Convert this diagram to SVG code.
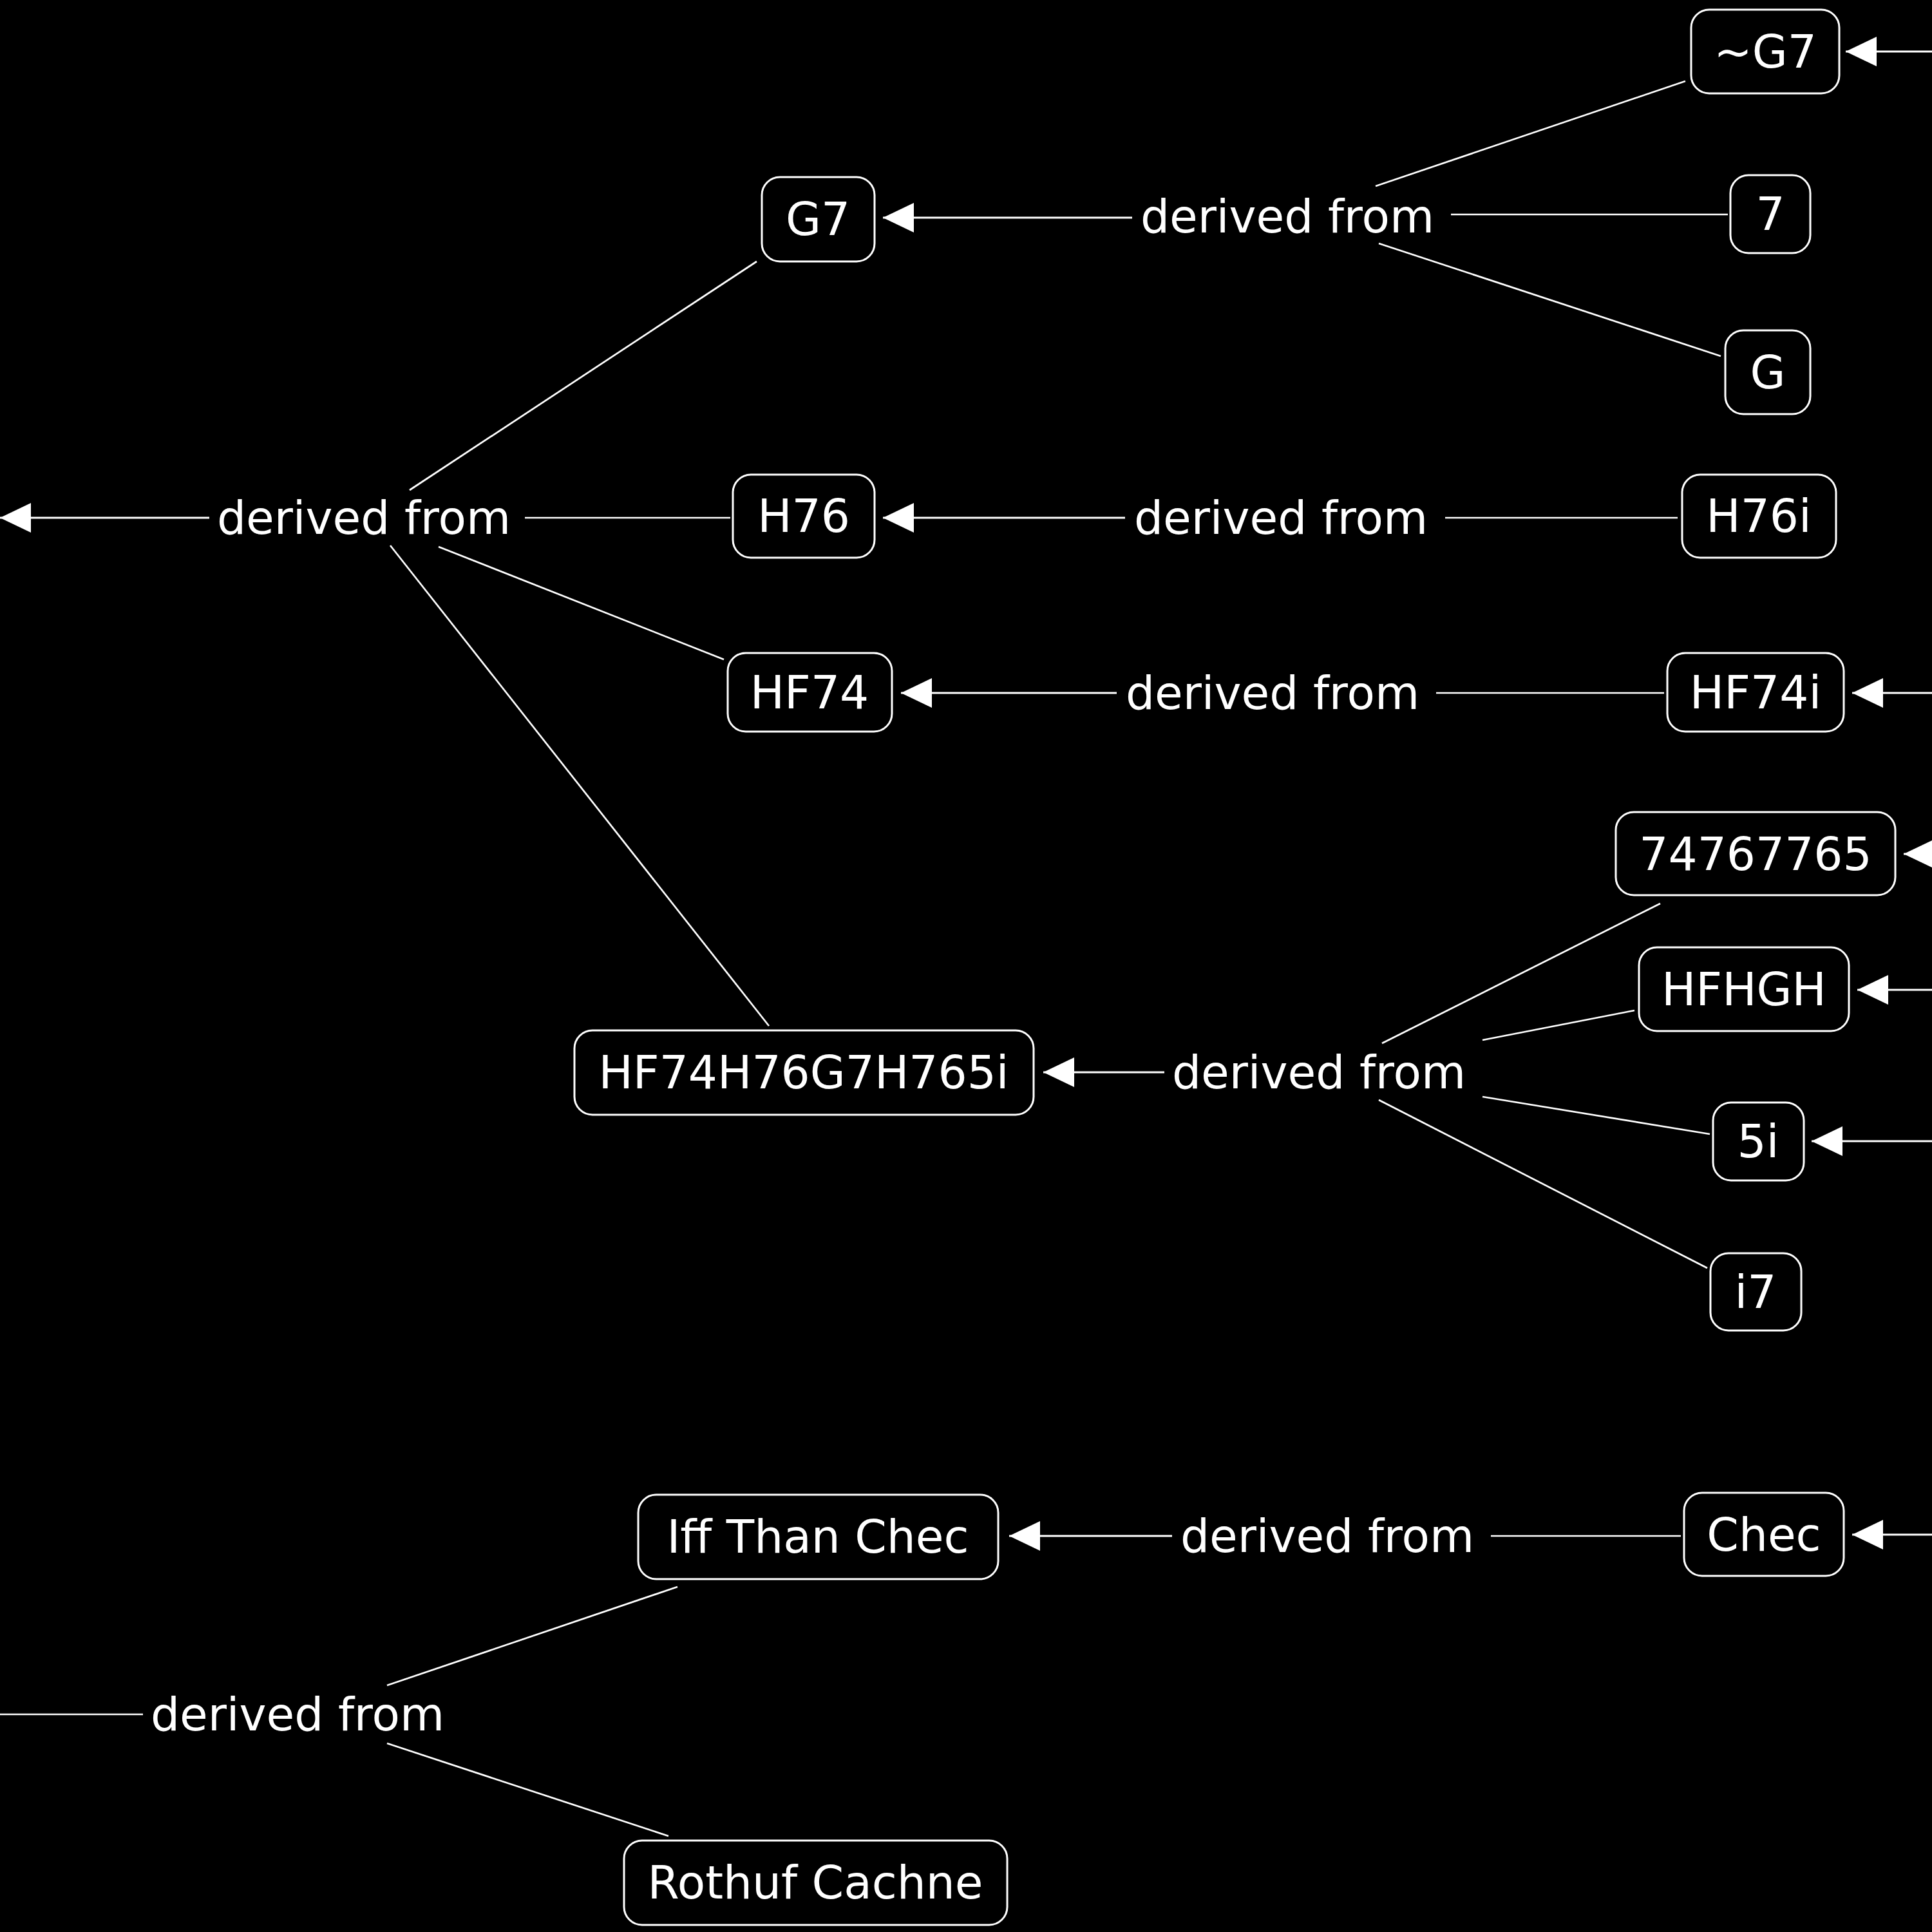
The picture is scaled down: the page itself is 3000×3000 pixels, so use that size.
<svg xmlns="http://www.w3.org/2000/svg" width="3000" height="3000" viewBox="0 0 3000 3000">
<defs>
<style>
.node rect{fill:#000;stroke:#fff;stroke-width:3}
text{font-family:"DejaVu Sans","Verdana",sans-serif;font-size:71px;fill:#fff;text-anchor:middle}
.edges line{stroke:#fff;stroke-width:2.7;fill:none}
.edges line.arr{stroke-width:3;marker-end:url(#ah)}
</style>
<marker id="ah" viewBox="0 0 48 46" refX="48" refY="23" markerWidth="48" markerHeight="46" markerUnits="userSpaceOnUse" orient="auto">
<path d="M0,0 L48,23 L0,46 Z" fill="#fff"/>
</marker>
</defs>
<rect x="0" y="0" width="3000" height="3000" fill="#000"/>
<g class="edges" id="connectors">
<line class="arr" x1="1758" y1="338" x2="1371" y2="338"/>
<line x1="2617" y1="126" x2="2136" y2="289"/>
<line x1="2683" y1="333" x2="2253" y2="333"/>
<line x1="2672" y1="553" x2="2141" y2="378"/>
<line class="arr" x1="3000" y1="80" x2="2866" y2="80"/>
<line class="arr" x1="325" y1="804" x2="0" y2="804"/>
<line x1="1175" y1="406" x2="636" y2="761"/>
<line x1="1134" y1="804" x2="815" y2="804"/>
<line x1="1124" y1="1024" x2="681" y2="849"/>
<line x1="1194" y1="1593" x2="606" y2="847"/>
<line class="arr" x1="1747" y1="804" x2="1371" y2="804"/>
<line x1="2605" y1="804" x2="2244" y2="804"/>
<line class="arr" x1="1734" y1="1076" x2="1399" y2="1076"/>
<line x1="2584" y1="1076" x2="2230" y2="1076"/>
<line class="arr" x1="3000" y1="1076" x2="2876" y2="1076"/>
<line class="arr" x1="1808" y1="1665" x2="1620" y2="1665"/>
<line x1="2578" y1="1403" x2="2146" y2="1620"/>
<line x1="2538" y1="1569" x2="2302" y2="1615"/>
<line x1="2655" y1="1761" x2="2302" y2="1703"/>
<line x1="2651" y1="1969" x2="2141" y2="1708"/>
<line class="arr" x1="3040" y1="1326" x2="2956" y2="1326"/>
<line class="arr" x1="3000" y1="1537" x2="2884" y2="1537"/>
<line class="arr" x1="3000" y1="1772" x2="2813" y2="1772"/>
<line class="arr" x1="1820" y1="2385" x2="1567" y2="2385"/>
<line x1="2610" y1="2385" x2="2315" y2="2385"/>
<line class="arr" x1="3000" y1="2383" x2="2876" y2="2383"/>
<line x1="1052" y1="2464" x2="601" y2="2617"/>
<line x1="1038" y1="2851" x2="601" y2="2707"/>
<line x1="222" y1="2662" x2="0" y2="2662"/>
</g>
<g id="labels">
<text x="1999" y="361">derived from</text>
<text x="565" y="829">derived from</text>
<text x="1989" y="829">derived from</text>
<text x="1976" y="1101">derived from</text>
<text x="2048" y="1690">derived from</text>
<text x="2061" y="2410">derived from</text>
<text x="462" y="2687">derived from</text>
</g>
<g class="node" id="n_nG7"><rect x="2626" y="15" width="230" height="130" rx="28"/><text x="2741" y="105">~G7</text></g>
<g class="node" id="n_7"><rect x="2687" y="272" width="124" height="121" rx="28"/><text x="2749" y="357">7</text></g>
<g class="node" id="n_G"><rect x="2679" y="513" width="132" height="130" rx="28"/><text x="2745" y="603">G</text></g>
<g class="node" id="n_G7"><rect x="1183" y="275" width="175" height="131" rx="28"/><text x="1270" y="365">G7</text></g>
<g class="node" id="n_H76"><rect x="1138" y="737" width="220" height="129" rx="28"/><text x="1248" y="826">H76</text></g>
<g class="node" id="n_H76i"><rect x="2612" y="737" width="239" height="129" rx="28"/><text x="2731" y="826">H76i</text></g>
<g class="node" id="n_HF74"><rect x="1130" y="1014" width="255" height="122" rx="28"/><text x="1257" y="1100">HF74</text></g>
<g class="node" id="n_HF74i"><rect x="2589" y="1014" width="274" height="122" rx="28"/><text x="2726" y="1100">HF74i</text></g>
<g class="node" id="n_74767765"><rect x="2509" y="1261" width="434" height="129" rx="28"/><text x="2726" y="1351">74767765</text></g>
<g class="node" id="n_HFHGH"><rect x="2545" y="1471" width="326" height="130" rx="28"/><text x="2708" y="1561">HFHGH</text></g>
<g class="node" id="n_HF74H76G7H765i"><rect x="892" y="1600" width="713" height="131" rx="28"/><text x="1248" y="1690">HF74H76G7H765i</text></g>
<g class="node" id="n_5i"><rect x="2660" y="1712" width="141" height="121" rx="28"/><text x="2730" y="1797">5i</text></g>
<g class="node" id="n_i7"><rect x="2656" y="1946" width="141" height="120" rx="28"/><text x="2726" y="2031">i7</text></g>
<g class="node" id="n_IffThanChec"><rect x="991" y="2321" width="559" height="131" rx="28"/><text x="1270" y="2411">Iff Than Chec</text></g>
<g class="node" id="n_Chec"><rect x="2615" y="2318" width="248" height="129" rx="28"/><text x="2739" y="2408">Chec</text></g>
<g class="node" id="n_RothufCachne"><rect x="969" y="2858" width="595" height="131" rx="28"/><text x="1266" y="2948">Rothuf Cachne</text></g>
</svg>
